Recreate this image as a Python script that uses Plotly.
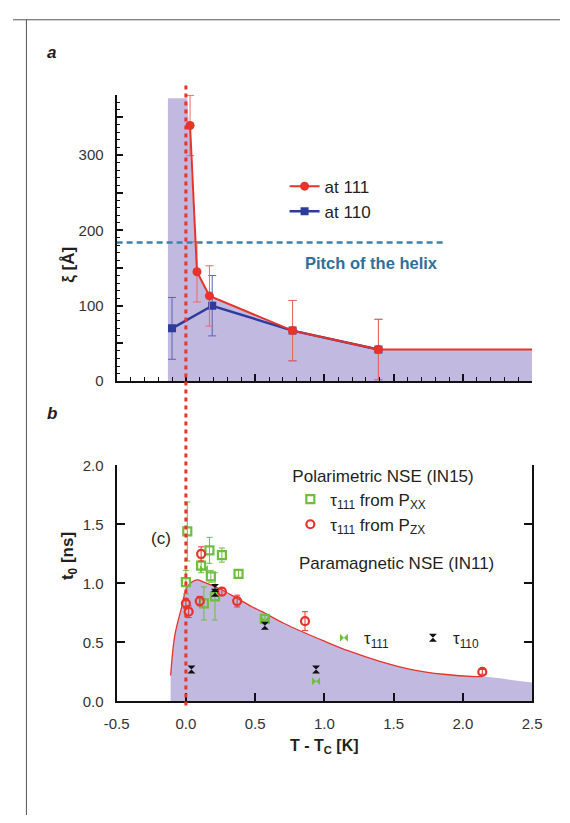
import plotly.graph_objects as go

W, H = 570, 823


def px(x):
    return x / W


def py(y):
    return 1 - y / H


# ---------------- panel a data ----------------
x111 = [0.03, 0.08, 0.17, 0.77, 1.39]
y111 = [339, 145, 113, 67, 42]
e111 = [40, 40, 40, 40, 40]

x110 = [-0.10, 0.19, 0.77, 1.39]
y110 = [70, 100, 67, 42]
e110 = [41, 40, 40, 40]

fillA_x = [-0.13, 0.01, 0.08, 0.17, 0.77, 1.39, 2.5]
fillA_y = [375, 375, 145, 113, 67, 42, 42]

ext_x = [1.39, 2.5]
ext_y = [42, 42]

helix_x = [-0.5, 1.86]
helix_y = [184, 184]

# ---------------- panel b data ----------------
fit_x = [-0.11, -0.08, -0.03, 0.01, 0.08, 0.13, 0.25, 0.36, 0.48, 0.55, 0.71, 0.84,
         1.0, 1.17, 1.40, 1.63, 1.86, 2.09, 2.14]
fit_y = [0.22, 0.56, 0.80, 0.97, 1.03, 1.01, 0.95, 0.88, 0.80, 0.76, 0.66, 0.59,
         0.51, 0.43, 0.34, 0.27, 0.23, 0.21, 0.21]
fillB_x = fit_x + [2.5]
fillB_y = fit_y + [0.16]

pxx_x = [0.0, 0.01, 0.11, 0.13, 0.17, 0.18, 0.21, 0.26, 0.38, 0.57]
pxx_y = [1.01, 1.44, 1.15, 0.83, 1.28, 1.06, 0.89, 1.24, 1.08, 0.70]
pxx_e = [0.10, 0.25, 0.06, 0.14, 0.11, 0.05, 0.20, 0.06, 0.03, 0.03]

pzx_x = [0.0, 0.02, 0.10, 0.11, 0.26, 0.37, 0.86, 2.14]
pzx_y = [0.83, 0.76, 0.85, 1.25, 0.93, 0.85, 0.68, 0.25]
pzx_e = [0.04, 0.05, 0.04, 0.06, 0.03, 0.05, 0.08, 0.02]

in11_111_x = [0.13, 0.57, 0.94]
in11_111_y = [1.12, 0.69, 0.17]

in11_110_x = [0.04, 0.21, 0.21, 0.57, 0.94]
in11_110_y = [0.27, 0.96, 0.92, 0.64, 0.27]

RED = "#e8332b"
BLUE = "#2c3b9c"
GREEN = "#6dbf3c"
FILL = "rgb(193,185,224)"
TXT = "#231f20"
FONT = "Liberation Sans, Arial, sans-serif"

fig = go.Figure()

# panel a
fig.add_trace(go.Scatter(x=fillA_x, y=fillA_y, mode="lines", fill="tozeroy",
                         fillcolor=FILL, line=dict(width=0, color=FILL),
                         showlegend=False, hoverinfo="skip", xaxis="x", yaxis="y"))
fig.add_trace(go.Scatter(x=helix_x, y=helix_y, mode="lines",
                         line=dict(color="#3a83b0", width=2.5, dash="6px,4px"),
                         showlegend=False, xaxis="x", yaxis="y"))
fig.add_trace(go.Scatter(x=ext_x, y=ext_y, mode="lines", line=dict(color=RED, width=2),
                         showlegend=False, xaxis="x", yaxis="y"))
fig.add_trace(go.Scatter(x=x110, y=y110, mode="lines+markers", name="at 110",
                         line=dict(color=BLUE, width=2.5),
                         marker=dict(symbol="square", size=8, color=BLUE),
                         error_y=dict(type="data", array=e110, color="#5a64b5", thickness=1, width=4),
                         legend="legend", xaxis="x", yaxis="y"))
fig.add_trace(go.Scatter(x=x111, y=y111, mode="lines+markers", name="at 111",
                         line=dict(color=RED, width=2),
                         marker=dict(symbol="circle", size=9, color=RED),
                         error_y=dict(type="data", array=e111, color="#ef6a5a", thickness=1, width=4),
                         legend="legend", xaxis="x", yaxis="y"))

# panel b
fig.add_trace(go.Scatter(x=fillB_x, y=fillB_y, mode="lines", fill="tozeroy",
                         fillcolor=FILL, line=dict(width=0, color=FILL, shape="spline"),
                         showlegend=False, hoverinfo="skip", xaxis="x2", yaxis="y2"))
fig.add_trace(go.Scatter(x=fit_x, y=fit_y, mode="lines", line=dict(color=RED, width=1.3, shape="spline"),
                         showlegend=False, hoverinfo="skip", xaxis="x2", yaxis="y2"))
fig.add_trace(go.Scatter(x=pxx_x, y=pxx_y, mode="markers",
                         name="τ<sub>111</sub> from P<sub>XX</sub>",
                         marker=dict(symbol="square-open", size=8, color=GREEN, line=dict(width=2.2, color=GREEN)),
                         error_y=dict(type="data", array=pxx_e, color=GREEN, thickness=1, width=3),
                         legend="legend2", xaxis="x2", yaxis="y2"))
fig.add_trace(go.Scatter(x=pzx_x, y=pzx_y, mode="markers",
                         name="τ<sub>111</sub> from P<sub>ZX</sub>",
                         marker=dict(symbol="circle-open", size=8, color=RED, line=dict(width=2.2, color=RED)),
                         error_y=dict(type="data", array=pzx_e, color=RED, thickness=1, width=3),
                         legend="legend2", xaxis="x2", yaxis="y2"))
fig.add_trace(go.Scatter(x=in11_111_x, y=in11_111_y, mode="markers",
                         name="τ<sub>111</sub>",
                         marker=dict(symbol="bowtie", size=8, color=GREEN),
                         legend="legend3", xaxis="x2", yaxis="y2"))
fig.add_trace(go.Scatter(x=in11_110_x, y=in11_110_y, mode="markers",
                         name="τ<sub>110</sub>",
                         marker=dict(symbol="hourglass", size=8, color="#111111"),
                         legend="legend3", xaxis="x2", yaxis="y2"))

axis_common = dict(showgrid=False, zeroline=False, showline=True, linecolor="#111", linewidth=2,
                   ticks="inside", tickcolor="#111", tickwidth=2,
                   tickfont=dict(family=FONT, size=15, color="#333"))

xd = [px(108), px(541)]
fig.update_layout(
    width=W, height=H, margin=dict(l=0, r=0, t=0, b=0),
    paper_bgcolor="white", plot_bgcolor="rgba(0,0,0,0)",
    font=dict(family=FONT, color=TXT),
    xaxis=dict(domain=xd, range=[-0.5, 2.5], anchor="y", showticklabels=False,
               tickvals=[-0.5, 0, 0.5, 1.0, 1.5, 2.0, 2.5], ticklen=7,
               minor=dict(dtick=0.1, ticklen=4, ticks="inside", tickcolor="#111", tickwidth=1),
               **axis_common),
    yaxis=dict(domain=[py(380), py(380 - 380 * 0.77)], range=[0, 380], anchor="x",
               tickvals=[0, 50, 100, 150, 200, 250, 300, 350],
               ticktext=["0", "", "100", "", "200", "", "300", ""], ticklen=6,
               ticklabelstandoff=8,
               minor=dict(dtick=10, ticklen=3, ticks="inside", tickcolor="#111", tickwidth=1),
               **axis_common),
    xaxis2=dict(domain=xd, range=[-0.5, 2.5], anchor="y2",
                tickvals=[-0.5, 0, 0.5, 1.0, 1.5, 2.0, 2.5],
                ticktext=["-0.5", "0.0", "0.5", "1.0", "1.5", "2.0", "2.5"], ticklen=8,
                ticklabelstandoff=8, **axis_common),
    yaxis2=dict(domain=[py(707), py(466)], range=[0, 2.0], anchor="x2",
                tickvals=[0, 0.5, 1.0, 1.5, 2.0], ticktext=["0.0", "0.5", "1.0", "1.5", "2.0"],
                ticklen=8, mirror="ticks", ticklabelstandoff=8, **axis_common),
    legend=dict(x=px(283), y=py(163), xanchor="left", yanchor="top", bgcolor="rgba(0,0,0,0)",
                font=dict(size=17, family=FONT, color=TXT), itemwidth=30, tracegroupgap=0,
                traceorder="reversed"),
    legend2=dict(x=px(289), y=py(460), xanchor="left", yanchor="top", bgcolor="rgba(0,0,0,0)",
                 font=dict(size=17, family=FONT, color=TXT), itemwidth=30,
                 title=dict(text="Polarimetric NSE (IN15)", font=dict(size=17, family=FONT, color=TXT))),
    legend3=dict(x=px(324), y=py(624), xanchor="left", yanchor="top", bgcolor="rgba(0,0,0,0)",
                 orientation="h", entrywidth=44,
                 font=dict(size=17, family=FONT, color=TXT), itemwidth=30),
)

fig.update_layout(annotations=[
    dict(text="<b><i>a</i></b>", x=px(33), y=py(33), xref="paper", yref="paper",
         showarrow=False, font=dict(size=17, family=FONT, color=TXT)),
    dict(text="<b><i>b</i></b>", x=px(33), y=py(413), xref="paper", yref="paper",
         showarrow=False, font=dict(size=17, family=FONT, color=TXT)),
    dict(text="<b>ξ [Å]</b>", x=px(45), y=py(241), xref="paper", yref="paper", textangle=-90,
         showarrow=False, font=dict(size=17, family=FONT, color=TXT)),
    dict(text="<b>t<sub>0</sub> [ns]</b>", x=px(45), y=py(585), xref="paper", yref="paper", textangle=-90,
         showarrow=False, font=dict(size=17, family=FONT, color=TXT)),
    dict(text="<b>T - T<sub>C</sub> [K]</b>", x=px(325), y=py(765), xref="paper", yref="paper",
         showarrow=False, font=dict(size=16, family=FONT, color=TXT)),
    dict(text="<b>Pitch of the helix</b>", x=px(374), y=py(248), xref="paper", yref="paper",
         showarrow=False, font=dict(size=16.5, family=FONT, color="#2f6f98")),
    dict(text="(c)", x=px(142), y=py(552), xref="paper", yref="paper",
         showarrow=False, font=dict(size=17, family=FONT, color=TXT)),
    dict(text="Paramagnetic NSE (IN11)", x=px(296), y=py(578), xref="paper", yref="paper",
         xanchor="left", showarrow=False, font=dict(size=17, family=FONT, color=TXT)),
])

fig.update_layout(shapes=[
    dict(type="line", xref="paper", yref="paper", x0=0, x1=1, y0=py(11), y1=py(11),
         line=dict(color="#555", width=1)),
    dict(type="line", xref="paper", yref="paper", x0=px(14), x1=px(14), y0=py(11), y1=0,
         line=dict(color="#555", width=1)),
    dict(type="line", xref="x2", yref="paper", x0=0, x1=0, y0=py(78), y1=py(712),
         line=dict(color="#e8332b", width=3, dash="4px,4px")),
])

fig.write_html("out.html")
